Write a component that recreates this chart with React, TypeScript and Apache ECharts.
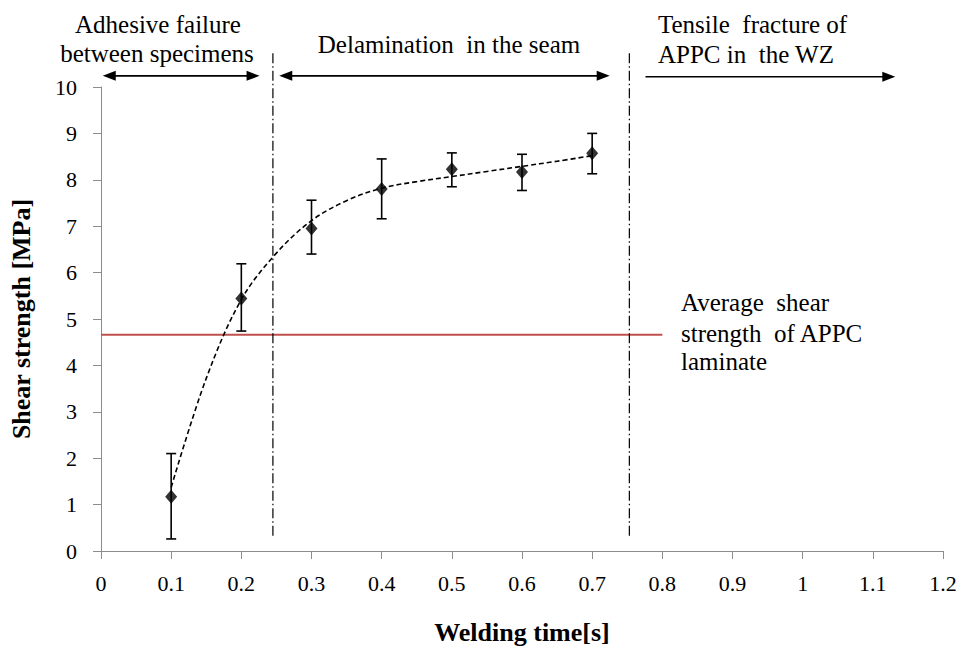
import React, { useEffect, useRef } from "react";
import * as echarts from "echarts";

// ---- data ----
const weldingTime = [0.1, 0.2, 0.3, 0.4, 0.5, 0.6, 0.7];
const shearStrength = [1.17, 5.44, 6.95, 7.8, 8.23, 8.17, 8.57];
const errLow = [0.26, 4.74, 6.4, 7.16, 7.85, 7.77, 8.13];
const errHigh = [2.1, 6.19, 7.56, 8.45, 8.58, 8.55, 9.0];

const trendX = [0.1, 0.15, 0.2, 0.25, 0.3, 0.35, 0.4, 0.45, 0.5, 0.55, 0.6, 0.65, 0.7];
const trendY = [1.37, 3.72, 5.42, 6.42, 7.12, 7.55, 7.82, 7.96, 8.07, 8.18, 8.29, 8.4, 8.52];

const avgShear = 4.66;
const avgShearXEnd = 0.8;

const boundaryX = [0.245, 0.753];
const boundaryYFrom = 0.33;
const boundaryYTo = 10.75;

// region arrows: [xFrom, xTo, y, doubleHeaded(1/0)]
const regionFrom = [0.0025, 0.254, 0.776];
const regionTo = [0.226, 0.725, 1.132];
const regionY = [10.24, 10.24, 10.22];
const regionDouble = [1, 1, 0];

const SERIF = "Liberation Serif";

export default function App() {
  const ref = useRef<HTMLDivElement>(null);

  useEffect(() => {
    if (!ref.current) return;
    const chart = echarts.init(ref.current, undefined, { renderer: "svg" });

    const errData = weldingTime.map((x, i) => [x, errLow[i], errHigh[i]]);
    const arrowData = regionFrom.map((x, i) => [x, regionTo[i], regionY[i], regionDouble[i]]);

    const txt = (text: string, x: number, y: number, align: string) => ({
      type: "text",
      x,
      y,
      style: {
        text,
        fontFamily: SERIF,
        fontSize: 25,
        fill: "#000",
        textAlign: align,
        textVerticalAlign: "middle",
      },
    });

    const option: any = {
      animation: false,
      backgroundColor: "#fff",
      textStyle: { fontFamily: SERIF },
      grid: { left: 95, right: 20, top: 87, bottom: 97 },
      xAxis: {
        type: "value",
        min: 0,
        max: 1.2,
        interval: 0.1,
        name: "Welding time[s]",
        nameLocation: "middle",
        nameGap: 68,
        nameTextStyle: { fontFamily: SERIF, fontSize: 26, fontWeight: "bold", color: "#000" },
        axisLine: { lineStyle: { color: "#8c8c8c", width: 1 } },
        axisTick: { show: true, inside: false, length: 8, lineStyle: { color: "#8c8c8c" } },
        axisLabel: { fontFamily: SERIF, fontSize: 22, color: "#000", margin: 21 },
        splitLine: { show: false },
      },
      yAxis: {
        type: "value",
        min: 0,
        max: 10,
        interval: 1,
        name: "Shear strength [MPa]",
        nameLocation: "middle",
        nameGap: 67,
        nameRotate: 90,
        nameTextStyle: { fontFamily: SERIF, fontSize: 26, fontWeight: "bold", color: "#000" },
        axisLine: { show: true, lineStyle: { color: "#8c8c8c", width: 1 } },
        axisTick: { show: true, inside: false, length: 8, lineStyle: { color: "#8c8c8c" } },
        axisLabel: { fontFamily: SERIF, fontSize: 22, color: "#000", margin: 24 },
        splitLine: { show: false },
      },
      series: [
        {
          type: "line",
          name: "avg",
          data: [[0, avgShear], [avgShearXEnd, avgShear]],
          symbol: "none",
          lineStyle: { color: "#c0504d", width: 2 },
          silent: true,
          z: 1,
        },
        ...boundaryX.map((bx) => ({
          type: "line",
          data: [[bx, boundaryYFrom], [bx, boundaryYTo]],
          symbol: "none",
          clip: false,
          lineStyle: { color: "#000", width: 1.2, type: [10, 3, 1.5, 3] },
          silent: true,
          z: 2,
        })),
        {
          type: "line",
          name: "trend",
          data: trendX.map((x, i) => [x, trendY[i]]),
          symbol: "none",
          smooth: 0.35,
          lineStyle: { color: "#000", width: 1.6, type: [5, 3] },
          silent: true,
          z: 3,
        },
        {
          type: "custom",
          name: "error",
          clip: false,
          data: errData,
          renderItem: (params: any, api: any) => {
            const x = api.value(0);
            const lo = api.coord([x, api.value(1)]);
            const hi = api.coord([x, api.value(2)]);
            const cap = 5;
            const style = { stroke: "#000", lineWidth: 1.6 };
            return {
              type: "group",
              children: [
                { type: "line", shape: { x1: lo[0], y1: lo[1], x2: hi[0], y2: hi[1] }, style },
                { type: "line", shape: { x1: lo[0] - cap, y1: lo[1], x2: lo[0] + cap, y2: lo[1] }, style },
                { type: "line", shape: { x1: hi[0] - cap, y1: hi[1], x2: hi[0] + cap, y2: hi[1] }, style },
              ],
            };
          },
          z: 4,
        },
        {
          type: "scatter",
          name: "Shear strength",
          data: weldingTime.map((x, i) => [x, shearStrength[i]]),
          symbol: "diamond",
          symbolSize: [12, 14],
          itemStyle: { color: "#000" },
          z: 5,
        },
        {
          type: "custom",
          name: "regions",
          clip: false,
          data: arrowData,
          renderItem: (params: any, api: any) => {
            const y = api.value(2);
            const a = api.coord([api.value(0), y]);
            const b = api.coord([api.value(1), y]);
            const both = api.value(3) === 1;
            const hl = 13;
            const hw = 5;
            const children: any[] = [
              {
                type: "line",
                shape: { x1: a[0] + (both ? hl - 2 : 0), y1: a[1], x2: b[0] - hl + 2, y2: b[1] },
                style: { stroke: "#000", lineWidth: 1.6 },
              },
              {
                type: "polygon",
                shape: { points: [[b[0], b[1]], [b[0] - hl, b[1] - hw], [b[0] - hl, b[1] + hw]] },
                style: { fill: "#000" },
              },
            ];
            if (both) {
              children.push({
                type: "polygon",
                shape: { points: [[a[0], a[1]], [a[0] + hl, a[1] - hw], [a[0] + hl, a[1] + hw]] },
                style: { fill: "#000" },
              });
            }
            return { type: "group", children };
          },
          z: 6,
        },
      ],
      graphic: [
        txt("Adhesive failure", 158, 24, "center"),
        txt("between specimens", 157, 53, "center"),
        txt("Delamination  in the seam", 449, 44, "center"),
        txt("Tensile  fracture of", 658, 24, "left"),
        txt("APPC in  the WZ", 658, 54, "left"),
        txt("Average  shear", 681, 302, "left"),
        txt("strength  of APPC", 681, 333, "left"),
        txt("laminate", 681, 361, "left"),
      ],
    };

    chart.setOption(option);
    return () => chart.dispose();
  }, []);

  return (
    <div
      ref={ref}
      style={{ position: "fixed", left: 0, top: 0, width: 963, height: 650, background: "#fff" }}
    />
  );
}
